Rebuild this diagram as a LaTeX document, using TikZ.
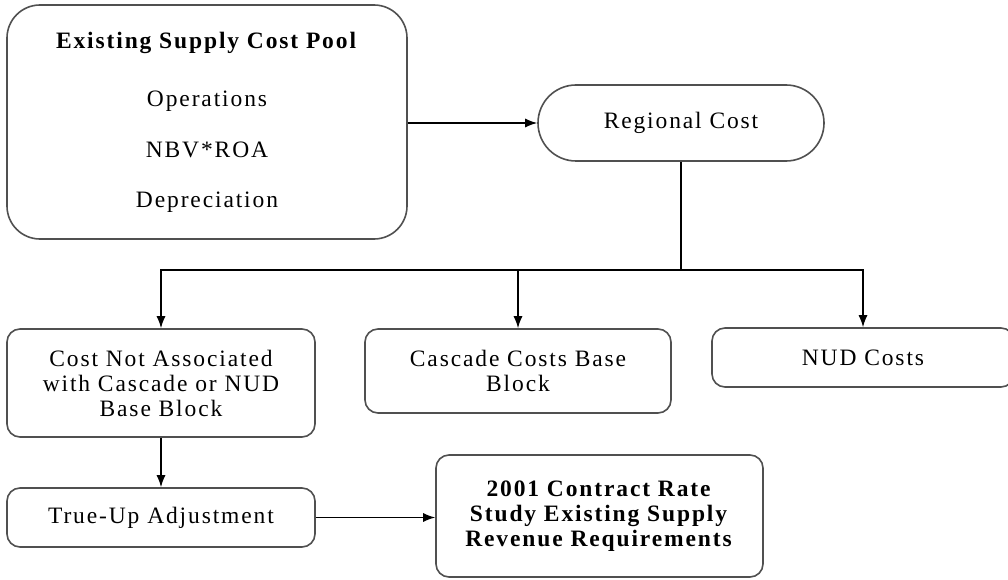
\documentclass[tikz,border=0pt]{standalone}
\usepackage{fontspec}
\setmainfont{Liberation Serif}[LetterSpace=8]
\usetikzlibrary{arrows.meta}
\definecolor{edge}{HTML}{505050}
\tikzset{
  box/.style={draw=edge, line width=1.6pt, rounded corners=13pt, align=center,
    inner sep=0pt, font=\fontsize{23.5}{25}\selectfont},
  link/.style={draw=black, line width=1.3pt},
  arrow/.style={link, -{Latex[length=12pt,width=9pt]}},
}
\begin{document}
\begin{tikzpicture}[x=1pt,y=-1pt]
\useasboundingbox (0,0) rectangle (1008,580);
\fill[white] (0,0) rectangle (1008,580);

% cost pool and regional cost
\node[box, rounded corners=33pt, minimum width=400pt, minimum height=234pt]
  (pool) at (207,122) {\textbf{Existing Supply Cost Pool}\\[33pt]
  Operations\\[26pt] NBV*ROA\\[25pt] Depreciation};
\node[box, rounded corners=38pt, minimum width=286pt, minimum height=76pt]
  (regional) at (681,123) {Regional Cost};

% cost categories
\node[box, minimum width=308pt, minimum height=108pt] (other) at (161,383)
  {Cost Not Associated\\with Cascade or NUD\\Base Block};
\node[box, minimum width=306pt, minimum height=84pt] (cascade) at (518,371)
  {Cascade Costs Base\\Block};
\node[box, minimum width=302pt, minimum height=59pt] (nud) at (863,357.5)
  {NUD Costs};

% adjustment and result
\node[box, minimum width=308pt, minimum height=59pt] (trueup) at (161,517.5)
  {True-Up Adjustment};
\node[box, minimum width=327pt, minimum height=122pt] (result) at (599.5,516)
  {\textbf{2001 Contract Rate}\\\textbf{Study Existing Supply}\\\textbf{Revenue Requirements}};

\coordinate (split) at (681,270);

\draw[arrow] (pool.east |- regional.west) -- (regional.west);
\draw[link] (regional.south) -- (split);
\draw[arrow] (split) -| (other.north);
\draw[arrow] (split) -| (cascade.north);
\draw[arrow] (split) -| (nud.north);
\draw[arrow] (other.south) -- (trueup.north);
\draw[arrow] (trueup.east) -- (trueup.east -| result.west);
\end{tikzpicture}
\end{document}
